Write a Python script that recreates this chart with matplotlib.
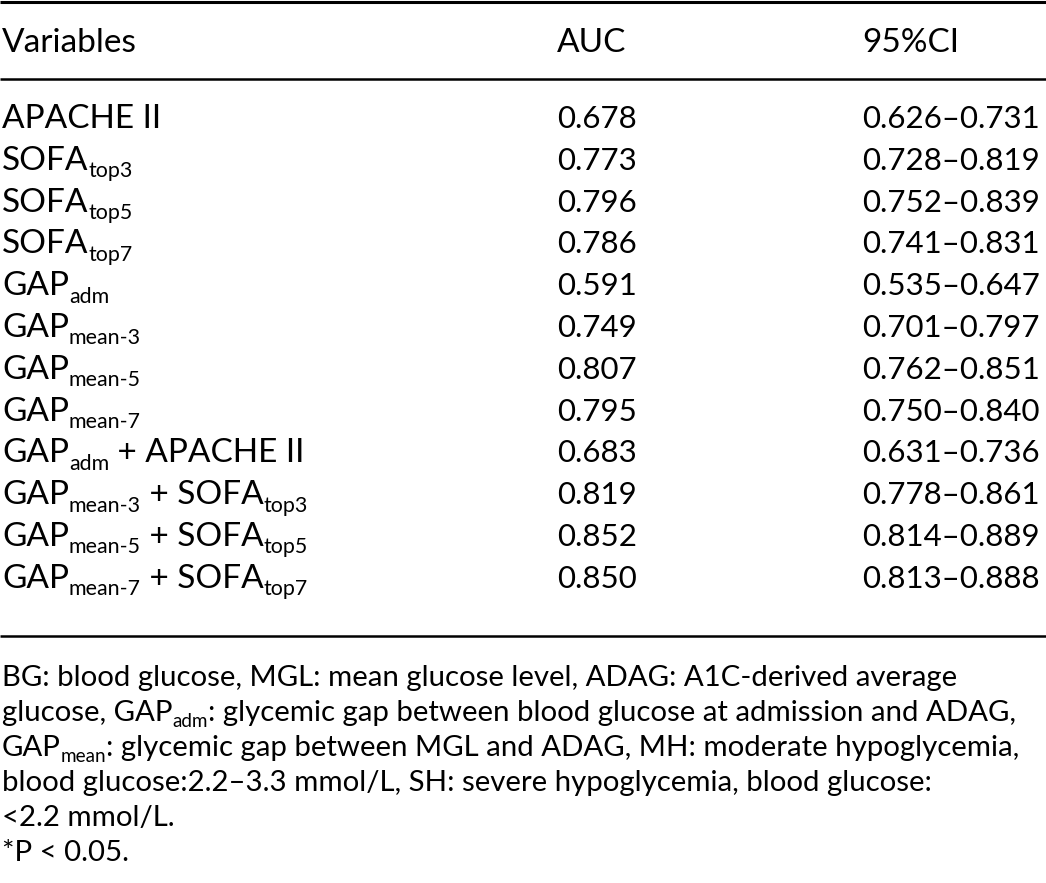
import re
import matplotlib
matplotlib.use("Agg")
import matplotlib.pyplot as plt

FONT = "Lato"

headers = ["Variables", "AUC", "95%CI"]
variables = [
    "APACHE II",
    "SOFA_{top3}",
    "SOFA_{top5}",
    "SOFA_{top7}",
    "GAP_{adm}",
    "GAP_{mean-3}",
    "GAP_{mean-5}",
    "GAP_{mean-7}",
    "GAP_{adm} + APACHE II",
    "GAP_{mean-3} + SOFA_{top3}",
    "GAP_{mean-5} + SOFA_{top5}",
    "GAP_{mean-7} + SOFA_{top7}",
]
auc = ["0.678", "0.773", "0.796", "0.786", "0.591", "0.749",
       "0.807", "0.795", "0.683", "0.819", "0.852", "0.850"]
ci = ["0.626–0.731", "0.728–0.819", "0.752–0.839", "0.741–0.831",
      "0.535–0.647", "0.701–0.797", "0.762–0.851", "0.750–0.840",
      "0.631–0.736", "0.778–0.861", "0.814–0.889", "0.813–0.888"]
footnotes = [
    "BG: blood glucose, MGL: mean glucose level, ADAG: A1C-derived average",
    "glucose, GAP_{adm}: glycemic gap between blood glucose at admission and ADAG,",
    "GAP_{mean}: glycemic gap between MGL and ADAG, MH: moderate hypoglycemia,",
    "blood glucose:2.2–3.3 mmol/L, SH: severe hypoglycemia, blood glucose:",
    "<2.2 mmol/L.",
    "*P < 0.05.",
]

W, H = 1046, 883
fig = plt.figure(figsize=(W / 100, H / 100), dpi=100)
ax = fig.add_axes([0, 0, 1, 1])
ax.set_xlim(0, W)
ax.set_ylim(H, 0)
ax.axis("off")
renderer = fig.canvas.get_renderer()


def parse(s):
    parts = []
    for m in re.finditer(r"_\{([^}]*)\}|([^_]+)", s):
        if m.group(1) is not None:
            parts.append((m.group(1), True))
        else:
            parts.append((m.group(2), False))
    return parts


def rich(x, y, s, size, sub_scale=0.64, sub_drop=0.22):
    cx = x
    for txt, is_sub in parse(s):
        fs = size * sub_scale if is_sub else size
        dy = size * sub_drop * 100 / 72 if is_sub else 0
        t = ax.text(cx, y + dy, txt, fontsize=fs, family=FONT,
                    ha="left", va="baseline", color="black")
        bb = t.get_window_extent(renderer)
        cx += bb.width


MAIN = 24
NUM = 22.5
# rules
ax.plot([0, W], [1.5, 1.5], color="black", lw=2.2, solid_capstyle="butt")
ax.plot([0, W], [78.5, 78.5], color="black", lw=1.8, solid_capstyle="butt")
ax.plot([0, W], [636, 636], color="black", lw=1.8, solid_capstyle="butt")

col_x = [2, 557, 862]
ax.text(col_x[0], 52, headers[0], fontsize=MAIN, family=FONT, ha="left", va="baseline")
ax.text(col_x[1], 52, headers[1], fontsize=MAIN, family=FONT, ha="left", va="baseline")
ax.text(col_x[2], 52, headers[2], fontsize=MAIN, family=FONT, ha="left", va="baseline")

row0, step = 128, 41.8
for i, (v, a, c) in enumerate(zip(variables, auc, ci)):
    y = row0 + i * step
    rich(col_x[0], y, v, MAIN)
    ax.text(col_x[1], y, a, fontsize=NUM, family=FONT, ha="left", va="baseline")
    ax.text(col_x[2], y, c, fontsize=NUM, family=FONT, ha="left", va="baseline")

FN = 21.2
f0, fstep = 686, 35.0
for i, line in enumerate(footnotes):
    rich(2, f0 + i * fstep, line, FN)

fig.savefig("out.png", dpi=100)
